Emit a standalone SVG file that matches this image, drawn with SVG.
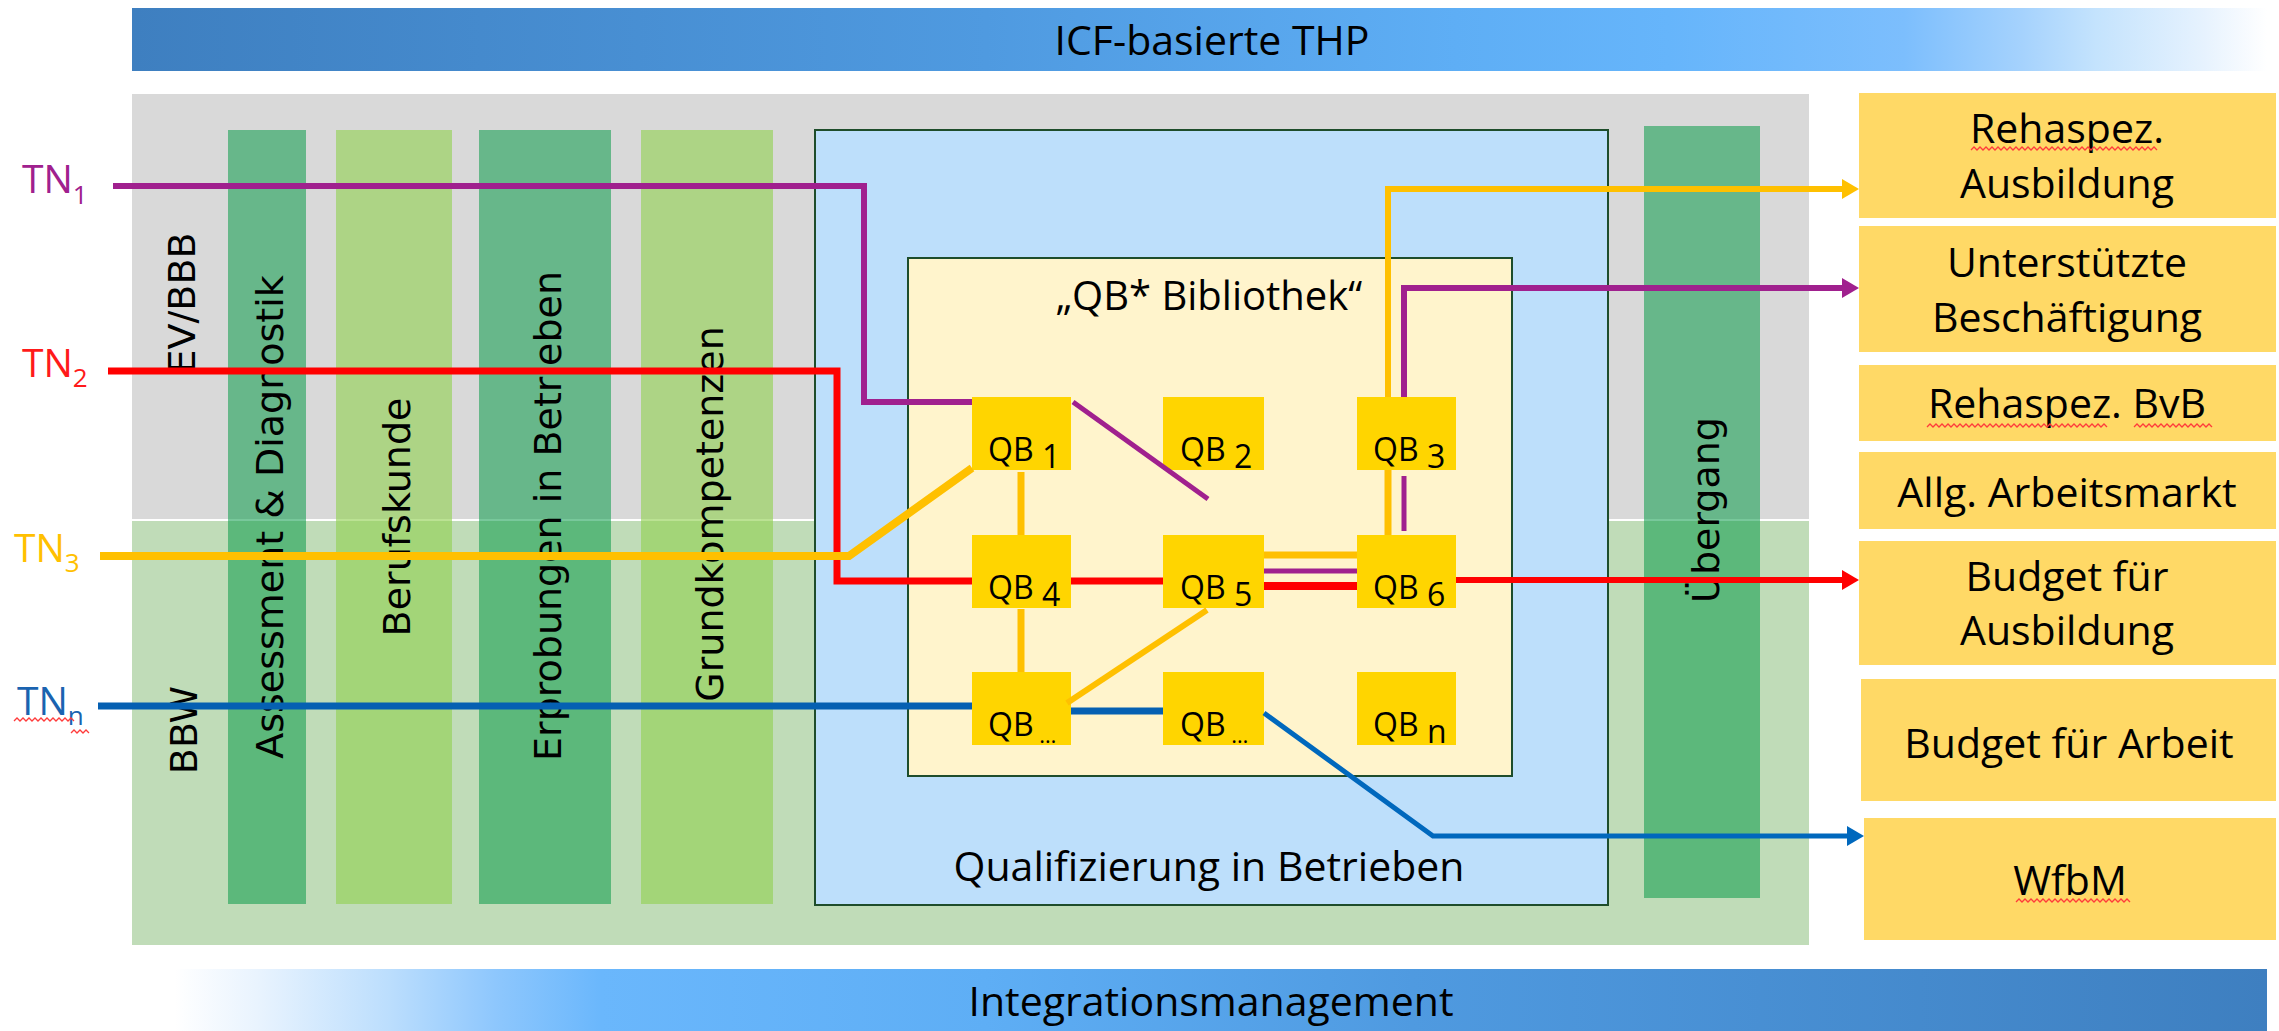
<svg xmlns="http://www.w3.org/2000/svg" width="2279" height="1031" viewBox="0 0 2279 1031">
<style>
.t{font-family:'Open Sans','Liberation Sans',sans-serif;fill:#000}
.r{font-family:'DejaVu Sans','Verdana',sans-serif;font-size:38px;fill:#000}
.bar{font-size:41px}
.box{font-size:41px;text-anchor:middle}
.qb{font-size:32px}
.tn{font-size:39px}
.sub{font-size:26px}
.dk{fill:#0a9a48;fill-opacity:0.55}
.lt{fill:#92d050;fill-opacity:0.62}
.qbr{fill:#ffd500}
.rb{fill:#ffd966}
.ln{fill:none;stroke-linejoin:miter;stroke-linecap:butt}
.sq{fill:none;stroke:#ff3b3b;stroke-width:1.3}
</style>
<defs>
<linearGradient id="gTop" gradientUnits="userSpaceOnUse" x1="132" y1="0" x2="2267" y2="0">
<stop offset="0" stop-color="#3e7fc0"/>
<stop offset="0.4" stop-color="#4f9ae0"/>
<stop offset="0.62" stop-color="#5eaef5"/>
<stop offset="0.72" stop-color="#66b5fb"/>
<stop offset="0.83" stop-color="#7cbefd"/>
<stop offset="0.885" stop-color="#a5d2fd"/>
<stop offset="0.92" stop-color="#c4e3fd"/>
<stop offset="0.97" stop-color="#e6f2fe"/>
<stop offset="1" stop-color="#ffffff"/>
</linearGradient>
<linearGradient id="gBot" gradientUnits="userSpaceOnUse" x1="132" y1="0" x2="2267" y2="0">
<stop offset="0" stop-color="#ffffff"/>
<stop offset="0.02" stop-color="#ffffff"/>
<stop offset="0.06" stop-color="#e8f3fe"/>
<stop offset="0.12" stop-color="#bcdefd"/>
<stop offset="0.17" stop-color="#8ec7fd"/>
<stop offset="0.22" stop-color="#6ab7fc"/>
<stop offset="0.4" stop-color="#5eaef5"/>
<stop offset="0.6" stop-color="#4f9ae0"/>
<stop offset="1" stop-color="#3e7fc0"/>
</linearGradient>
<marker id="aY" markerUnits="userSpaceOnUse" markerWidth="17" markerHeight="20" refX="3" refY="10" orient="auto"><path d="M0,0 L17,10 L0,20 z" fill="#ffc000"/></marker>
<marker id="aP" markerUnits="userSpaceOnUse" markerWidth="17" markerHeight="20" refX="3" refY="10" orient="auto"><path d="M0,0 L17,10 L0,20 z" fill="#a0208e"/></marker>
<marker id="aR" markerUnits="userSpaceOnUse" markerWidth="17" markerHeight="20" refX="3" refY="10" orient="auto"><path d="M0,0 L17,10 L0,20 z" fill="#ff0000"/></marker>
<marker id="aB" markerUnits="userSpaceOnUse" markerWidth="17" markerHeight="20" refX="3" refY="10" orient="auto"><path d="M0,0 L17,10 L0,20 z" fill="#0068bd"/></marker>
</defs>
<rect width="2279" height="1031" fill="#ffffff"/>

<g id="icf-bar">
<rect x="132" y="8" width="2135" height="63" fill="url(#gTop)"/>
<text class="t bar" x="1212" y="55" text-anchor="middle">ICF-basierte THP</text>
</g>
<g id="integration-bar">
<rect x="132" y="969" width="2135" height="62" fill="url(#gBot)"/>
<text class="t bar" x="1211" y="1016" text-anchor="middle">Integrationsmanagement</text>
</g>

<g id="ev-bbb">
<rect x="132" y="94" width="1677" height="425" fill="#d9d9d9"/>
<text class="r" transform="translate(195,303) rotate(-90)" text-anchor="middle">EV/BBB</text>
</g>
<g id="bbw">
<rect x="132" y="521" width="1677" height="424" fill="#c0dcb8"/>
<text class="r" transform="translate(197,730) rotate(-90)" text-anchor="middle">BBW</text>
</g>

<g id="col-assessment">
<rect class="dk" x="228" y="130" width="78" height="774"/>
<text class="r" transform="translate(283,517) rotate(-90)" text-anchor="middle">Assessment &amp; Diagnostik</text>
</g>
<g id="col-berufskunde">
<rect class="lt" x="336" y="130" width="116" height="774"/>
<text class="r" transform="translate(410,517) rotate(-90)" text-anchor="middle">Berufskunde</text>
</g>
<g id="col-erprobungen">
<rect class="dk" x="479" y="130" width="132" height="774"/>
<text class="r" transform="translate(561,516) rotate(-90)" text-anchor="middle">Erprobungen in Betrieben</text>
</g>
<g id="col-grundkompetenzen">
<rect class="lt" x="641" y="130" width="132" height="774"/>
<text class="r" transform="translate(723,514) rotate(-90)" text-anchor="middle">Grundkompetenzen</text>
</g>
<g id="col-uebergang">
<rect class="dk" x="1644" y="126" width="116" height="772"/>
<text class="r" transform="translate(1719,510) rotate(-90)" text-anchor="middle">Übergang</text>
</g>

<g id="qualifizierung">
<rect x="815" y="130" width="793" height="775" fill="#bddffb" stroke="#1e4d2b" stroke-width="2"/>
<text class="t" x="1209" y="881" font-size="41" text-anchor="middle">Qualifizierung in Betrieben</text>
</g>
<g id="bibliothek">
<rect x="908" y="258" width="604" height="518" fill="#fff4cc" stroke="#1e4d2b" stroke-width="2"/>
<text class="t" x="1209" y="310" font-size="40" text-anchor="middle">„QB* Bibliothek“</text>
</g>

<g id="qb1"><rect class="qbr" x="972" y="397" width="99" height="73"/><text class="t qb" x="988" y="461">QB<tspan dy="7"> 1</tspan></text></g>
<g id="qb2"><rect class="qbr" x="1163" y="397" width="101" height="73"/><text class="t qb" x="1180" y="461">QB<tspan dy="7"> 2</tspan></text></g>
<g id="qb3"><rect class="qbr" x="1357" y="397" width="99" height="73"/><text class="t qb" x="1373" y="461">QB<tspan dy="7"> 3</tspan></text></g>
<g id="qb4"><rect class="qbr" x="972" y="535" width="99" height="73"/><text class="t qb" x="988" y="599">QB<tspan dy="7"> 4</tspan></text></g>
<g id="qb5"><rect class="qbr" x="1163" y="535" width="101" height="73"/><text class="t qb" x="1180" y="599">QB<tspan dy="7"> 5</tspan></text></g>
<g id="qb6"><rect class="qbr" x="1357" y="535" width="99" height="73"/><text class="t qb" x="1373" y="599">QB<tspan dy="7"> 6</tspan></text></g>
<g id="qb7"><rect class="qbr" x="972" y="672" width="99" height="73"/><text class="t qb" x="988" y="736">QB<tspan dy="7" font-size="22"> …</tspan></text></g>
<g id="qb8"><rect class="qbr" x="1163" y="672" width="101" height="73"/><text class="t qb" x="1180" y="736">QB<tspan dy="7" font-size="22"> …</tspan></text></g>
<g id="qbn"><rect class="qbr" x="1357" y="672" width="99" height="73"/><text class="t qb" x="1373" y="736">QB<tspan dy="7"> n</tspan></text></g>

<g id="out-rehaspez-ausbildung"><rect class="rb" x="1859" y="93" width="417" height="125"/>
<text class="t box" x="2067" y="143">Rehaspez.</text><text class="t box" x="2067" y="198">Ausbildung</text>
<path class="sq" d="M1971,150 l3,-3 l3,3 l3,-3 l3,3 l3,-3 l3,3 l3,-3 l3,3 l3,-3 l3,3 l3,-3 l3,3 l3,-3 l3,3 l3,-3 l3,3 l3,-3 l3,3 l3,-3 l3,3 l3,-3 l3,3 l3,-3 l3,3 l3,-3 l3,3 l3,-3 l3,3 l3,-3 l3,3 l3,-3 l3,3 l3,-3 l3,3 l3,-3 l3,3 l3,-3 l3,3 l3,-3 l3,3 l3,-3 l3,3 l3,-3 l3,3 l3,-3 l3,3 l3,-3 l3,3 l3,-3 l3,3 l3,-3 l3,3 l3,-3 l3,3 l3,-3 l3,3 l3,-3 l3,3 l3,-3 l3,3 l3,-3 l3,3"/>
</g>
<g id="out-unterstuetzte"><rect class="rb" x="1859" y="226" width="417" height="126"/>
<text class="t box" x="2067" y="277">Unterstützte</text><text class="t box" x="2067" y="332">Beschäftigung</text>
</g>
<g id="out-rehaspez-bvb"><rect class="rb" x="1859" y="365" width="417" height="76"/>
<text class="t box" x="2067" y="418">Rehaspez. BvB</text>
<path class="sq" d="M1927,427 l3,-3 l3,3 l3,-3 l3,3 l3,-3 l3,3 l3,-3 l3,3 l3,-3 l3,3 l3,-3 l3,3 l3,-3 l3,3 l3,-3 l3,3 l3,-3 l3,3 l3,-3 l3,3 l3,-3 l3,3 l3,-3 l3,3 l3,-3 l3,3 l3,-3 l3,3 l3,-3 l3,3 l3,-3 l3,3 l3,-3 l3,3 l3,-3 l3,3 l3,-3 l3,3 l3,-3 l3,3 l3,-3 l3,3 l3,-3 l3,3 l3,-3 l3,3 l3,-3 l3,3 l3,-3 l3,3 l3,-3 l3,3 l3,-3 l3,3 l3,-3 l3,3 l3,-3 l3,3 l3,-3 l3,3"/>
<path class="sq" d="M2134,427 l3,-3 l3,3 l3,-3 l3,3 l3,-3 l3,3 l3,-3 l3,3 l3,-3 l3,3 l3,-3 l3,3 l3,-3 l3,3 l3,-3 l3,3 l3,-3 l3,3 l3,-3 l3,3 l3,-3 l3,3 l3,-3 l3,3 l3,-3 l3,3"/>
</g>
<g id="out-allg-arbeitsmarkt"><rect class="rb" x="1859" y="452" width="417" height="77"/>
<text class="t box" x="2067" y="507">Allg. Arbeitsmarkt</text>
</g>
<g id="out-budget-ausbildung"><rect class="rb" x="1859" y="541" width="417" height="124"/>
<text class="t box" x="2067" y="591">Budget für</text><text class="t box" x="2067" y="645">Ausbildung</text>
</g>
<g id="out-budget-arbeit"><rect class="rb" x="1861" y="679" width="415" height="122"/>
<text class="t box" x="2069" y="758">Budget für Arbeit</text>
</g>
<g id="out-wfbm"><rect class="rb" x="1864" y="818" width="412" height="122"/>
<text class="t box" x="2070" y="895">WfbM</text>
<path class="sq" d="M2016,902 l3,-3 l3,3 l3,-3 l3,3 l3,-3 l3,3 l3,-3 l3,3 l3,-3 l3,3 l3,-3 l3,3 l3,-3 l3,3 l3,-3 l3,3 l3,-3 l3,3 l3,-3 l3,3 l3,-3 l3,3 l3,-3 l3,3 l3,-3 l3,3 l3,-3 l3,3 l3,-3 l3,3 l3,-3 l3,3 l3,-3 l3,3 l3,-3 l3,3 l3,-3 l3,3"/>
</g>

<g id="tn1"><text class="t tn" x="22" y="193" style="fill:#a0208e">TN<tspan class="sub" dy="11">1</tspan></text></g>
<g id="tn2"><text class="t tn" x="22" y="377" style="fill:#ff1a1a">TN<tspan class="sub" dy="10">2</tspan></text></g>
<g id="tn3"><text class="t tn" x="14" y="562" style="fill:#ffc000">TN<tspan class="sub" dy="10">3</tspan></text></g>
<g id="tnn"><text class="t tn" x="17" y="715" style="fill:#1a63b0">TN<tspan class="sub" dy="10">n</tspan></text>
<path class="sq" d="M14,721 l3,-3 l3,3 l3,-3 l3,3 l3,-3 l3,3 l3,-3 l3,3 l3,-3 l3,3 l3,-3 l3,3 l3,-3 l3,3 l3,-3 l3,3 l3,-3 l3,3 l3,-3 l3,3"/>
<path class="sq" d="M71,733 l3,-3 l3,3 l3,-3 l3,3 l3,-3 l3,3"/>
</g>

<g id="connectors">
<path class="ln" d="M113,186 L864,186 L864,402 L972,402" stroke="#a0208e" stroke-width="6"/>
<path class="ln" d="M1073,402 L1208,499" stroke="#a0208e" stroke-width="5"/>
<path class="ln" d="M1264,571 L1357,571" stroke="#a0208e" stroke-width="5"/>
<path class="ln" d="M1404,531 L1404,476" stroke="#a0208e" stroke-width="5"/>
<path class="ln" d="M1404,397 L1404,288 L1845,288" stroke="#a0208e" stroke-width="6" marker-end="url(#aP)"/>

<path class="ln" d="M108,371 L837,371 L837,581 L972,581" stroke="#ff0000" stroke-width="7"/>
<path class="ln" d="M1071,581 L1163,581" stroke="#ff0000" stroke-width="7"/>
<path class="ln" d="M1264,586 L1357,586" stroke="#ff0000" stroke-width="8"/>
<path class="ln" d="M1456,580 L1845,580" stroke="#ff0000" stroke-width="6" marker-end="url(#aR)"/>

<path class="ln" d="M100,556 L849,556 L972,468" stroke="#ffc000" stroke-width="8"/>
<path class="ln" d="M1021,472 L1021,535" stroke="#ffc000" stroke-width="7"/>
<path class="ln" d="M1021,609 L1021,672" stroke="#ffc000" stroke-width="7"/>
<path class="ln" d="M1067,703 L1207,610" stroke="#ffc000" stroke-width="6"/>
<path class="ln" d="M1264,555 L1357,555" stroke="#ffc000" stroke-width="7"/>
<path class="ln" d="M1388,470 L1388,535" stroke="#ffc000" stroke-width="7"/>
<path class="ln" d="M1388,397 L1388,189 L1845,189" stroke="#ffc000" stroke-width="6" marker-end="url(#aY)"/>

<path class="ln" d="M98,706 L972,706" stroke="#0560b2" stroke-width="7"/>
<path class="ln" d="M1071,711 L1163,711" stroke="#0560b2" stroke-width="7"/>
<path class="ln" d="M1264,713 L1433,836 L1850,836" stroke="#0068bd" stroke-width="5" marker-end="url(#aB)"/>
</g>
</svg>
